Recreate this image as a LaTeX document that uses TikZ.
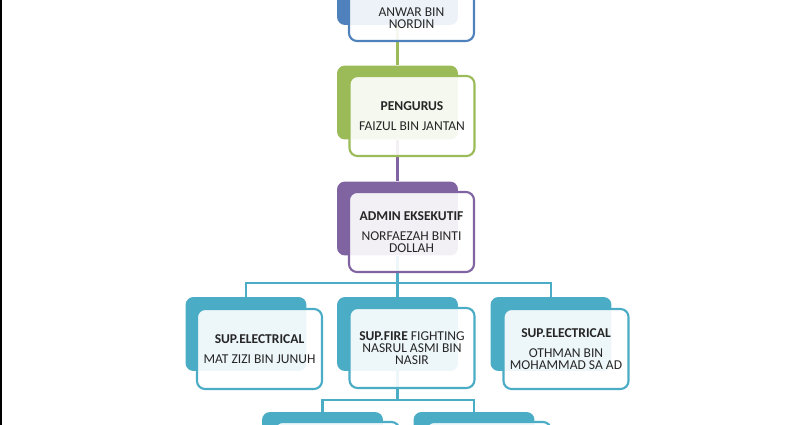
\documentclass[tikz,border=0pt]{standalone}
\usepackage{fontspec}
\setmainfont{Carlito}
\usetikzlibrary{calc,backgrounds}
\definecolor{dirblue}{HTML}{4F81BD}
\definecolor{pggreen}{HTML}{9BBB59}
\definecolor{adpurple}{HTML}{8064A2}
\definecolor{supteal}{HTML}{4BACC6}
\tikzset{
  back/.style={rounded corners=0.16cm, fill=#1, minimum width=2.42cm,
    minimum height=1.48cm, inner sep=0pt},
  front/.style={rounded corners=0.16cm, draw=#1, line width=1.2pt,
    fill=white, fill opacity=0.9, text opacity=1, minimum width=2.5cm,
    minimum height=1.6cm, inner sep=1pt, align=center, text=black!85,
    font=\fontsize{7.7}{6.9}\selectfont},
  link/.style={draw=#1, line width=1.2pt}
}
\begin{document}
\begin{tikzpicture}[x=0.02cm,y=-0.02cm]
  \useasboundingbox (0,0) rectangle (811,425);
  \clip (0,0) rectangle (811,425);
  \fill[black] (0,0) rectangle (2,425);
  % top
  \node[back=dirblue] (dirB) at (397.5,-12) {};
  \node[front=dirblue] (dirF) at (411.5,1) {};
  \node[align=center, text=black!85, font=\fontsize{7.7}{6.9}\selectfont,
    inner sep=0pt] (dirT) at (411.5,18) {ANWAR BIN\\NORDIN};
  % pengurus
  \node[back=pggreen] (pgB) at (397.5,102.5) {};
  \node[front=pggreen] (pgF) at (412,116) {\textbf{PENGURUS}\\[4.3pt]FAIZUL BIN JANTAN};
  % admin
  \node[back=adpurple] (adB) at (397.5,218.5) {};
  \node[front=adpurple] (adF) at (411.5,232) {\textbf{ADMIN EKSEKUTIF}\\[4.3pt]NORFAEZAH BINTI\\DOLLAH};
  % supervisors
  \node[back=supteal] (supAB) at (246,334) {};
  \node[front=supteal] (supAF) at (259.5,349) {\textbf{SUP.ELECTRICAL}\\[4.3pt]MAT ZIZI BIN JUNUH};
  \node[back=supteal] (supBB) at (397.5,334) {};
  \node[front=supteal] (supBF) at (412,348) {\textbf{SUP.FIRE} FIGHTING\\NASRUL ASMI BIN\\NASIR};
  \node[back=supteal] (supCB) at (551,334) {};
  \node[front=supteal] (supCF) at (566,349) {\textbf{SUP.ELECTRICAL}\\[4.8pt]OTHMAN BIN\\MOHAMMAD SA AD};
  % lower row
  \node[back=supteal] (lowAB) at (322.5,449) {};
  \node[front=supteal] (lowAF) at (337,462) {};
  \node[back=supteal] (lowBB) at (474,449) {};
  \node[front=supteal] (lowBF) at (488.5,462) {};
  \coordinate (busA) at (397.5,283);
  \coordinate (busB) at (397.5,400);
  \begin{scope}[on background layer]
    \draw[link=pggreen] (dirB) -- (pgB);
    \draw[link=adpurple] (pgB) -- (adB);
    \draw[link=supteal] (adB) -- (supBB);
    \draw[link=supteal] (supAB.north) |- (busA) -| (supCB.north);
    \draw[link=supteal] (supBB) -- (busB);
    \draw[link=supteal] (lowAB.north) |- (busB) -| (lowBB.north);
  \end{scope}
\end{tikzpicture}
\end{document}
